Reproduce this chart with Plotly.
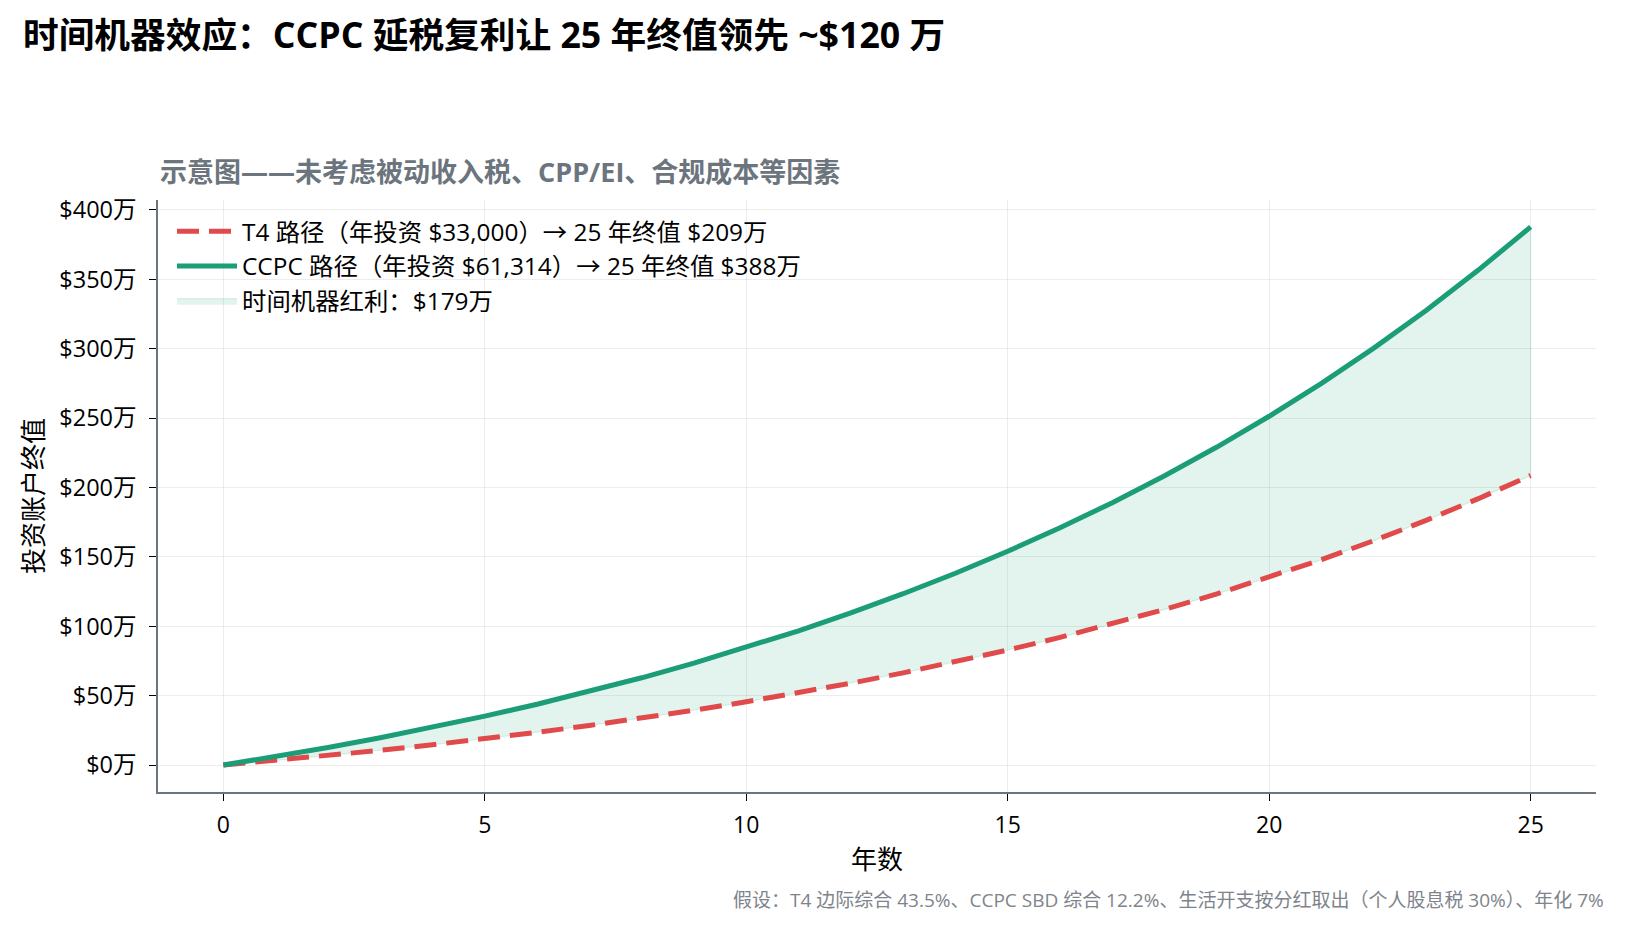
import plotly.graph_objects as go

# ---------------- data ----------------
years = list(range(0, 26))
t4_values = [0, 33000, 68310, 106092, 146518, 189774, 236059, 285583, 338573, 395274,
             455943, 520859, 590319, 664641, 744166, 829258, 920306, 1017727, 1121968,
             1233506, 1352851, 1480551, 1617189, 1763393, 1919830, 2087218]
ccpc_values = [0, 61314, 126920, 197118, 272231, 352601, 438597, 530613, 629069, 734418,
               847142, 967756, 1096812, 1234903, 1382660, 1540761, 1709928, 1890937,
               2084617, 2291854, 2513598, 2750864, 3004738, 3276384, 3567044, 3878052]
y_tick_values = [0, 50, 100, 150, 200, 250, 300, 350, 400]
y_tick_labels = [f"${v}万" for v in y_tick_values]
x_tick_values = [0, 5, 10, 15, 20, 25]

t4_label = "T4 路径（年投资 $33,000）→ 25 年终值 $209万"
ccpc_label = "CCPC 路径（年投资 $61,314）→ 25 年终值 $388万"
gap_label = "时间机器红利：$179万"
title_text = "时间机器效应：CCPC 延税复利让 25 年终值领先 ~$120 万"
subtitle_text = "示意图——未考虑被动收入税、CPP/EI、合规成本等因素"
footnote_text = "假设：T4 边际综合 43.5%、CCPC SBD 综合 12.2%、生活开支按分红取出（个人股息税 30%）、年化 7%"

# ---------------- styling ----------------
FONT = "Open Sans, Noto Sans CJK SC"
RED = "#e04a4a"
GREEN = "#1b9e77"
FILL = "rgba(27,158,119,0.12)"
SPINE = "#6c757d"
GRID = "rgba(0,0,0,0.07)"

t4_w = [v / 10000 for v in t4_values]
ccpc_w = [v / 10000 for v in ccpc_values]

fig = go.Figure()

# filled gap between the two paths
fig.add_trace(go.Scatter(
    x=years + years[::-1],
    y=ccpc_w + t4_w[::-1],
    fill="toself",
    fillcolor=FILL,
    line=dict(color="rgba(27,158,119,0.14)", width=1.2),
    mode="lines",
    name=gap_label,
    legendrank=3,
    hoverinfo="skip",
))
fig.add_trace(go.Scatter(
    x=years, y=t4_w, mode="lines",
    line=dict(color=RED, width=5, dash="22px,10px"),
    name=t4_label, legendrank=1,
))
fig.add_trace(go.Scatter(
    x=years, y=ccpc_w, mode="lines",
    line=dict(color=GREEN, width=5),
    name=ccpc_label, legendrank=2,
))

L, R, T, B = 158, 31, 200, 140
W, H = 1627, 932
plot_w = W - L - R
plot_h = H - T - B

fig.update_layout(
    width=W, height=H,
    margin=dict(l=L, r=R, t=T, b=B, autoexpand=False),
    paper_bgcolor="white", plot_bgcolor="white",
    font=dict(family=FONT, color="black", size=23),
    title=dict(
        text=f"<b>{title_text}</b>",
        x=23 / W, xref="container", xanchor="left",
        y=1 - 36 / H, yref="container", yanchor="middle",
        font=dict(family=FONT, size=35.7, color="black"),
    ),
    showlegend=True,
    legend=dict(
        x=(172 - L) / plot_w, y=0.985, xanchor="left", yanchor="top",
        bgcolor="rgba(255,255,255,0)", borderwidth=0,
        font=dict(family=FONT, size=24.4, color="black"),
        itemwidth=60,
    ),
    xaxis=dict(
        range=[-1.25, 26.25], tickvals=x_tick_values,
        showgrid=True, gridcolor=GRID, gridwidth=1,
        showline=True, linecolor=SPINE, linewidth=1.5, mirror=False,
        ticks="outside", ticklen=7, tickwidth=1.2, tickcolor="black",
        zeroline=False, tickfont=dict(family=FONT, size=23, color="black"),
        ticklabelstandoff=5,
    ),
    yaxis=dict(
        range=[-19.39, 407.2], tickvals=y_tick_values, ticktext=y_tick_labels,
        showgrid=True, gridcolor=GRID, gridwidth=1,
        showline=True, linecolor=SPINE, linewidth=1.5, mirror=False,
        ticks="outside", ticklen=7, tickwidth=1.2, tickcolor="black",
        zeroline=False, tickfont=dict(family=FONT, size=23.5, color="black"),
        ticklabelstandoff=8,
    ),
)

fig.add_annotation(
    text=f"<b>{subtitle_text}</b>", xref="paper", yref="paper",
    x=0, y=1 + (T - 171) / plot_h, xanchor="left", yanchor="middle",
    showarrow=False, font=dict(family=FONT, size=27, color=SPINE),
)
fig.add_annotation(
    text="年数", xref="paper", yref="paper",
    x=0.5, y=-(859 - (H - B)) / plot_h, xanchor="center", yanchor="middle",
    showarrow=False, font=dict(family=FONT, size=26, color="black"),
)
fig.add_annotation(
    text="投资账户终值", xref="paper", yref="paper", textangle=-90,
    x=-(L - 33) / plot_w, y=0.5, xanchor="center", yanchor="middle",
    showarrow=False, font=dict(family=FONT, size=26, color="black"),
)
fig.add_annotation(
    text=footnote_text, xref="paper", yref="paper",
    x=(1606 - L) / plot_w, y=-(900 - (H - B)) / plot_h, xanchor="right", yanchor="middle",
    showarrow=False, font=dict(family=FONT, size=19, color="#7d848b"),
)

fig.write_html("out.html")
